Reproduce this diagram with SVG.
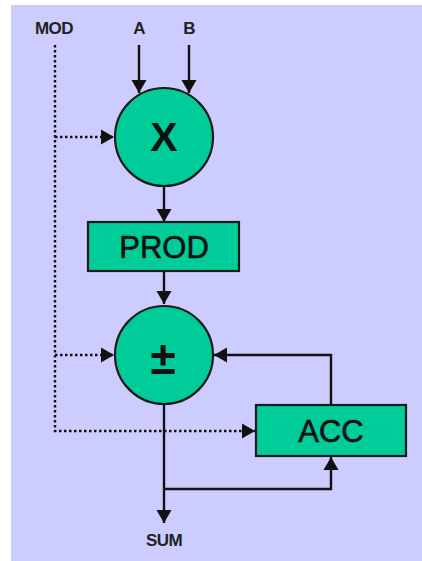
<svg xmlns="http://www.w3.org/2000/svg" width="422" height="561" viewBox="0 0 422 561">
  <style>
    .blk { fill: #00CC99; stroke: #1a1a1a; stroke-width: 2.2; }
    .wire { fill: none; stroke: #111; stroke-width: 2.4; }
    .ctl { fill: none; stroke: #111; stroke-width: 2.4; stroke-dasharray: 2.5 2.5; }
    .lbl { font-family: "Liberation Sans", Arial, sans-serif; font-weight: bold; font-size: 17px; fill: #222; text-anchor: middle; letter-spacing: -0.6px; }
    .op { font-family: "Liberation Sans", Arial, sans-serif; font-weight: bold; fill: #111; text-anchor: middle; }
    .reg { font-family: "Liberation Sans", Arial, sans-serif; font-size: 31px; fill: #111; stroke: #111; stroke-width: 0.6; text-anchor: middle; }
  </style>
  <defs>
    <marker id="arr" markerUnits="userSpaceOnUse" markerWidth="15" markerHeight="16" refX="13" refY="8" orient="auto">
      <path d="M0,0.5 L13,8 L0,15.5 Z" fill="#111"/>
    </marker>
  </defs>

  <rect x="0" y="0" width="422" height="561" fill="#ffffff"/>
  <rect x="11" y="5" width="411" height="556" fill="#CCCCFF"/>

  <!-- port labels -->
  <text class="lbl" x="54" y="34">MOD</text>
  <text class="lbl" x="139" y="34">A</text>
  <text class="lbl" x="189" y="34">B</text>
  <text class="lbl" x="164" y="546">SUM</text>

  <g id="connectors">
    <!-- operands into multiplier -->
    <line class="wire" x1="139" y1="45" x2="139" y2="93" marker-end="url(#arr)"/>
    <line class="wire" x1="189" y1="45" x2="189" y2="93" marker-end="url(#arr)"/>
    <!-- multiplier to PROD -->
    <line class="wire" x1="164" y1="186" x2="164" y2="222" marker-end="url(#arr)"/>
    <!-- PROD to adder -->
    <line class="wire" x1="164" y1="271" x2="164" y2="304" marker-end="url(#arr)"/>
    <!-- ACC feedback into adder -->
    <polyline class="wire" points="331,405 331,355 214,355" marker-end="url(#arr)"/>
    <!-- adder output to SUM -->
    <line class="wire" x1="164" y1="404" x2="164" y2="523" marker-end="url(#arr)"/>
    <!-- adder output branch to ACC -->
    <polyline class="wire" points="164,489 331,489 331,457" marker-end="url(#arr)"/>
    <!-- MOD control lines -->
    <polyline class="ctl" points="55,45 55,431 255,431" marker-end="url(#arr)"/>
    <line class="ctl" x1="55" y1="137" x2="114" y2="137" marker-end="url(#arr)"/>
    <line class="ctl" x1="55" y1="355" x2="114" y2="355" marker-end="url(#arr)"/>
  </g>

  <g id="mul">
    <circle class="blk" cx="164" cy="137" r="49"/>
    <text class="op" x="164" y="151" font-size="41">X</text>
  </g>

  <g id="prod">
    <rect class="blk" x="88" y="222" width="151" height="49"/>
    <text class="reg" x="164" y="258">PROD</text>
  </g>

  <g id="addsub">
    <circle class="blk" cx="164" cy="355" r="49"/>
    <text class="op" x="163" y="374" font-size="46">±</text>
  </g>

  <g id="acc">
    <rect class="blk" x="256" y="405" width="150" height="51"/>
    <text class="reg" x="331" y="442">ACC</text>
  </g>
</svg>
